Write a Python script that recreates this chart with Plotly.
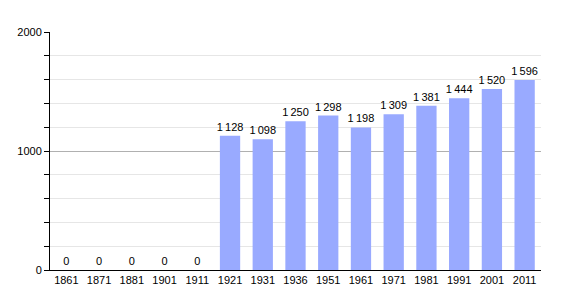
import plotly.graph_objects as go

years = ["1861", "1871", "1881", "1901", "1911", "1921", "1931", "1936", "1951",
         "1961", "1971", "1981", "1991", "2001", "2011"]
population = [0, 0, 0, 0, 0, 1128, 1098, 1250, 1298, 1198, 1309, 1381, 1444, 1520, 1596]
labels = [f"{v:,}".replace(",", "\u2009") for v in population]

txtfont = dict(family="Liberation Sans, Arial", size=11, color="black")

fig = go.Figure(go.Bar(
    x=years, y=population, text=labels, textposition="outside",
    constraintext="none",
    marker=dict(color="#99aaff", line=dict(width=0)),
    width=0.62, cliponaxis=False,
    textfont=txtfont, outsidetextfont=txtfont, insidetextfont=txtfont,
))

fig.update_layout(
    width=570, height=300,
    margin=dict(l=50, r=29, t=32, b=30),
    paper_bgcolor="white", plot_bgcolor="white",
    showlegend=False,
    font=dict(family="Liberation Sans, Arial", size=11, color="black"),
    xaxis=dict(showline=True, linecolor="black", linewidth=1, ticks="",
               tickfont=dict(size=11), showgrid=False),
    yaxis=dict(range=[0, 2000], tickvals=[0, 1000, 2000], showline=True,
               linecolor="black", linewidth=1, ticks="outside", ticklen=5,
               tickcolor="black", gridcolor="#b0b0b0", zeroline=False,
               tickfont=dict(size=11),
               minor=dict(dtick=200, showgrid=True, gridcolor="#e6e6e6",
                          ticks="outside", ticklen=5, tickcolor="black")),
)

fig.write_html("out.html")
